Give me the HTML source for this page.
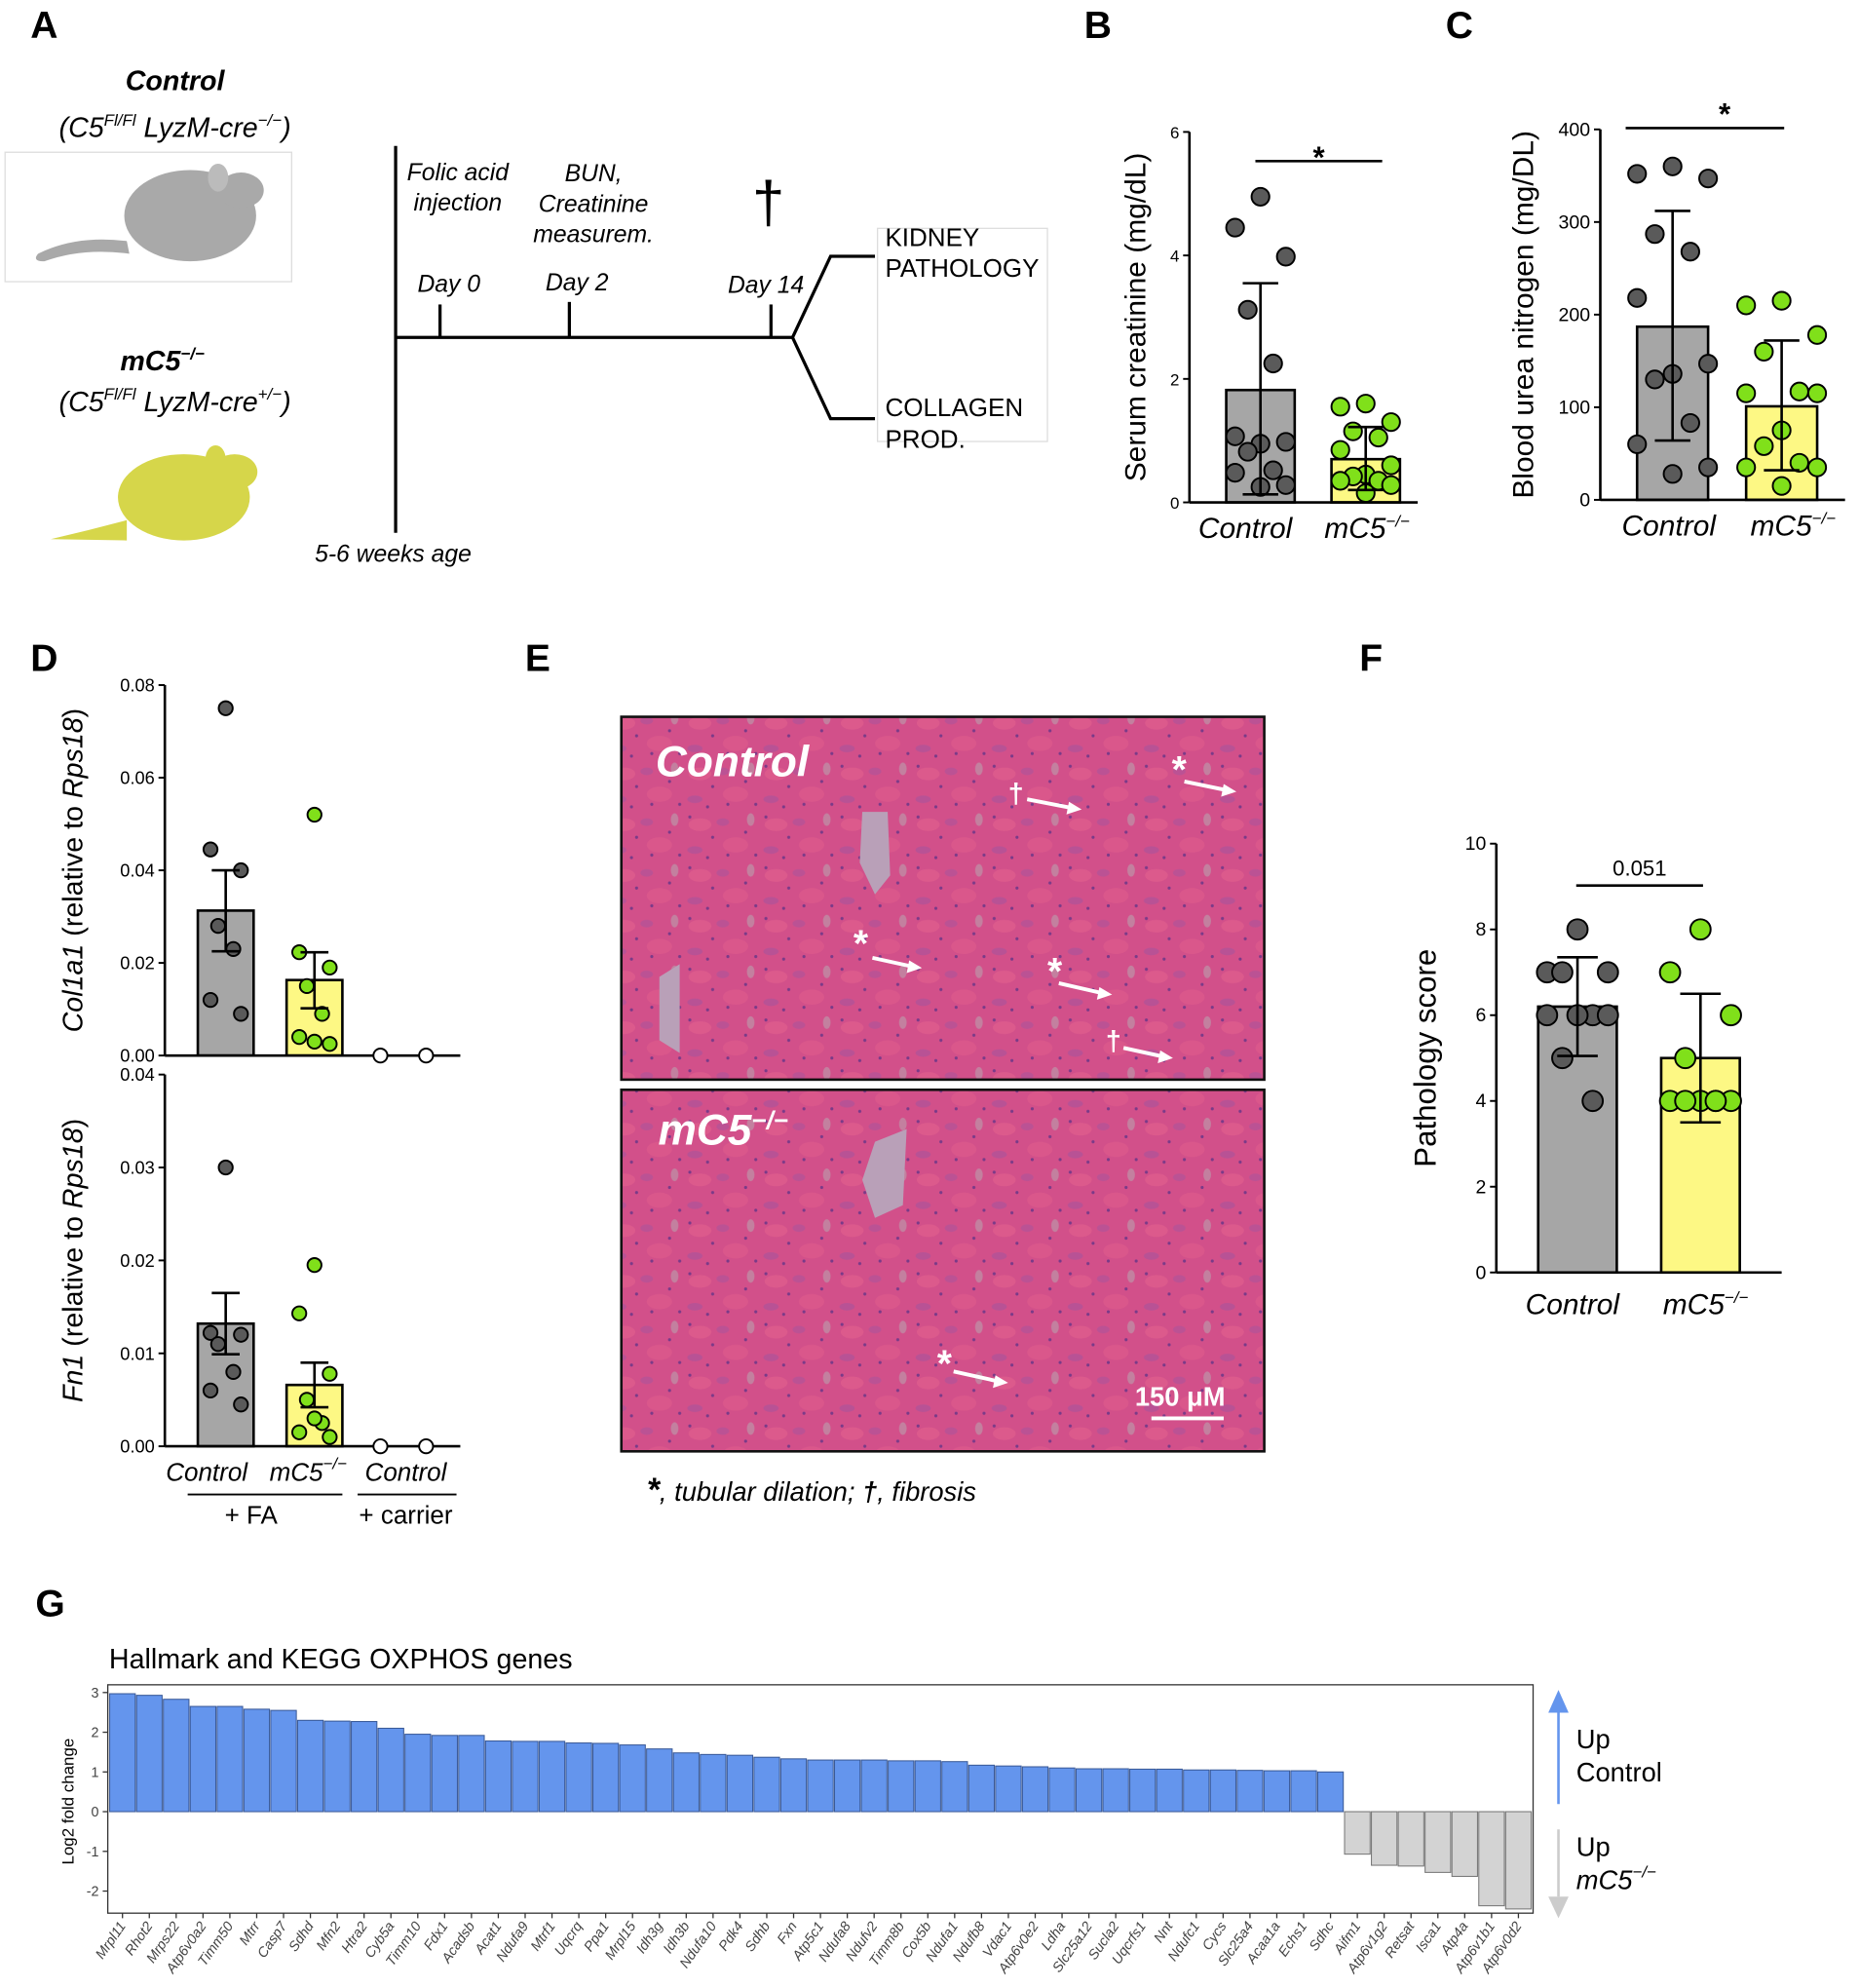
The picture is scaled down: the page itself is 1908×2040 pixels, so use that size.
<!DOCTYPE html>
<html><head><meta charset="utf-8"><style>
html,body{margin:0;padding:0;background:#fff;}
svg{display:block;font-family:"Liberation Sans",Arial,sans-serif;}
</style></head><body>
<svg id="fig" width="1908" height="2040" viewBox="0 0 1466 1567" preserveAspectRatio="none" xmlns="http://www.w3.org/2000/svg">
<defs>
<pattern id="tissue" width="60" height="40" patternUnits="userSpaceOnUse">
<rect width="60" height="40" fill="#d2508a"/>
<ellipse cx="12" cy="10" rx="9" ry="5" fill="#dc5a8c"/>
<ellipse cx="40" cy="26" rx="10" ry="6" fill="#da578b"/>
<ellipse cx="30" cy="8" rx="5" ry="3" fill="#bb5294"/>
<ellipse cx="8" cy="30" rx="6" ry="3" fill="#b85295"/>
<ellipse cx="52" cy="6" rx="3" ry="5" fill="#c3809f"/>
<circle cx="22" cy="20" r="1.2" fill="#7a3a88"/><circle cx="48" cy="16" r="1.2" fill="#7a3a88"/>
<circle cx="18" cy="36" r="1.2" fill="#7a3a88"/><circle cx="56" cy="34" r="1.2" fill="#7a3a88"/>
<circle cx="4" cy="4" r="1.2" fill="#7a3a88"/><circle cx="34" cy="34" r="1.2" fill="#7a3a88"/>
</pattern>
</defs>

<!-- Panel A -->
<g>
<text x="24" y="30" font-size="30" font-weight="bold">A</text>
<text x="138" y="71" font-size="22" font-weight="bold" font-style="italic" text-anchor="middle">Control</text>
<text x="138" y="108" font-size="22" font-style="italic" text-anchor="middle">(C5<tspan font-size="13" dy="-9">Fl/Fl</tspan><tspan dy="9"> LyzM-cre</tspan><tspan font-size="13" dy="-9">−/−</tspan><tspan dy="9">)</tspan></text>
<rect x="4" y="120" width="226" height="102" fill="#fff" stroke="#ddd"/>
<g fill="#a9a9a9">
<ellipse cx="150" cy="170" rx="52" ry="36"/><ellipse cx="190" cy="150" rx="18" ry="14"/><ellipse cx="172" cy="140" rx="8" ry="11" fill="#bbb"/>
<path d="M100 190 Q60 185 30 200 Q25 206 35 206 Q65 195 102 200Z"/></g>
<text x="128" y="292" font-size="22" font-weight="bold" font-style="italic" text-anchor="middle">mC5<tspan font-size="13" dy="-9">−/−</tspan></text>
<text x="138" y="324" font-size="22" font-style="italic" text-anchor="middle">(C5<tspan font-size="13" dy="-9">Fl/Fl</tspan><tspan dy="9"> LyzM-cre</tspan><tspan font-size="13" dy="-9">+/−</tspan><tspan dy="9">)</tspan></text>
<g fill="#d6d64a">
<ellipse cx="145" cy="392" rx="52" ry="34"/><ellipse cx="185" cy="372" rx="18" ry="14"/><ellipse cx="170" cy="362" rx="8" ry="11"/>
<path d="M100 410 Q70 418 40 425 L100 426Z"/></g>
<g stroke="#000" stroke-width="2.5" fill="none">
<line x1="312" y1="115" x2="312" y2="420"/><line x1="312" y1="266" x2="625" y2="266"/>
<line x1="347" y1="240" x2="347" y2="266"/><line x1="449" y1="238" x2="449" y2="266"/><line x1="608" y1="240" x2="608" y2="266"/>
<polyline points="690,202 655,202 625,266 655,330 690,330"/>
</g>
<rect x="692" y="180" width="134" height="168" fill="none" stroke="#ddd"/>
<g font-size="19" font-style="italic" text-anchor="middle">
<text x="361" y="142">Folic acid</text>
<text x="361" y="166">injection</text>
<text x="468" y="143">BUN,</text>
<text x="468" y="167">Creatinine</text>
<text x="468" y="191">measurem.</text>
<text x="354" y="230">Day 0</text>
<text x="455" y="229">Day 2</text>
<text x="604" y="231">Day 14</text>
<text x="310" y="443">5-6 weeks age</text>
</g>
<text x="606" y="175" font-size="46" text-anchor="middle">†</text>
<g font-size="20">
<text x="698" y="194">KIDNEY</text>
<text x="698" y="218">PATHOLOGY</text>
<text x="698" y="328">COLLAGEN</text>
<text x="698" y="353">PROD.</text>
</g>
</g>

<!-- Panel E -->
<g>
<text x="414" y="529" font-size="30" font-weight="bold">E</text>
<rect x="490" y="565" width="507" height="286" fill="url(#tissue)" stroke="#111" stroke-width="2"/>
<rect x="490" y="859" width="507" height="285" fill="url(#tissue)" stroke="#111" stroke-width="2"/>
<g fill="#b9a0b8">
<path d="M680 640 L700 640 L702 690 L690 705 L678 680Z"/><path d="M520 770 L536 760 L536 830 L520 820Z"/>
<path d="M690 900 L715 890 L712 950 L690 960 L680 930Z"/>
</g>
<text x="517" y="612" font-size="34" font-weight="bold" font-style="italic" fill="#fff">Control</text>
<text x="519" y="902" font-size="34" font-weight="bold" font-style="italic" fill="#fff">mC5<tspan font-size="20" dy="-12">−/−</tspan></text>
<g fill="#fff" font-weight="bold">
<text x="924" y="617" font-size="30">*</text>
<text x="673" y="754" font-size="30">*</text>
<text x="826" y="776" font-size="30">*</text>
<text x="739" y="1085" font-size="30">*</text>
<text x="795" y="633" font-size="22">†</text>
<text x="872" y="828" font-size="22">†</text>
</g>
<g stroke="#fff" stroke-width="3">
<line x1="810" y1="630" x2="846" y2="637"/><line x1="934" y1="616" x2="968" y2="623"/>
<line x1="688" y1="755" x2="720" y2="762"/><line x1="835" y1="775" x2="870" y2="783"/>
<line x1="886" y1="826" x2="918" y2="833"/><line x1="752" y1="1081" x2="788" y2="1089"/>
</g>
<g fill="#fff">
<polygon points="853,638 843,632 841,642"/><polygon points="975,624 965,618 963,628"/>
<polygon points="727,763 717,757 715,767"/><polygon points="877,784 867,778 865,788"/>
<polygon points="925,834 915,828 913,838"/><polygon points="795,1090 785,1084 783,1094"/>
</g>
<text x="895" y="1108" font-size="21" font-weight="bold" fill="#fff">150 μM</text>
<line x1="908" y1="1118" x2="965" y2="1118" stroke="#fff" stroke-width="3"/>
<text x="510" y="1183" font-size="21" font-style="italic"><tspan font-size="26" font-weight="bold">*</tspan>, tubular dilation; <tspan font-weight="bold">†</tspan>, fibrosis</text>
</g>

<!-- Panel G text -->
<text x="28" y="1274" font-size="30" font-weight="bold">G</text>
<text x="86" y="1315" font-size="22">Hallmark and KEGG OXPHOS genes</text>
<g id="gplot"></g>
<g id="charts"></g>
</svg>
<script>
// ---------- data ----------
const groupLabels = ["Control", "mC5"];
const creatControl = [4.95, 4.45, 3.98, 3.12, 2.25, 1.07, 0.98, 0.95, 0.82, 0.52, 0.48, 0.28, 0.25];
const creatMC5 = [1.6, 1.55, 1.3, 1.15, 1.05, 0.85, 0.6, 0.45, 0.42, 0.35, 0.35, 0.28, 0.15];
const creatMeans = [1.82, 0.7];
const creatErrHi = [3.55, 1.22];
const creatErrLo = [0.13, 0.2];
const creatTicks = [0, 2, 4, 6];

const bunControl = [360, 352, 347, 287, 268, 218, 147, 136, 130, 83, 60, 35, 28];
const bunMC5 = [215, 210, 178, 160, 117, 115, 115, 75, 58, 40, 35, 35, 15];
const bunMeans = [187, 101];
const bunErrHi = [312, 172];
const bunErrLo = [64, 32];
const bunTicks = [0, 100, 200, 300, 400];

const colControl = [0.075, 0.0445, 0.040, 0.028, 0.023, 0.012, 0.009];
const colMC5 = [0.052, 0.0223, 0.019, 0.015, 0.009, 0.004, 0.0025, 0.003];
const colCarrier = [0, 0];
const colMeans = [0.0313, 0.0163];
const colErrHi = [0.040, 0.0223];
const colErrLo = [0.0225, 0.0102];
const colTicks = [0, 0.02, 0.04, 0.06, 0.08];

const fnControl = [0.030, 0.0122, 0.012, 0.011, 0.008, 0.006, 0.0045];
const fnMC5 = [0.0195, 0.0143, 0.0078, 0.005, 0.0025, 0.0015, 0.001, 0.003];
const fnCarrier = [0, 0];
const fnMeans = [0.0132, 0.0066];
const fnErrHi = [0.0165, 0.009];
const fnErrLo = [0.0099, 0.0042];
const fnTicks = [0, 0.01, 0.02, 0.03, 0.04];

const pathControl = [8, 7, 7, 7, 6, 6, 6, 6, 5, 4];
const pathMC5 = [8, 7, 6, 5, 4, 4, 4, 4, 4, 4];
const pathMeans = [6.2, 5.0];
const pathErrHi = [7.35, 6.5];
const pathErrLo = [5.05, 3.5];
const pathTicks = [0, 2, 4, 6, 8, 10];

const geneNames = ["Mrpl11","Rhot2","Mrps22","Atp6v0a2","Timm50","Mtrr","Casp7","Sdhd","Mfn2","Htra2","Cyb5a","Timm10","Fdx1","Acadsb","Acat1","Ndufa9","Mtrf1","Uqcrq","Ppa1","Mrpl15","Idh3g","Idh3b","Ndufa10","Pdk4","Sdhb","Fxn","Atp5c1","Ndufa8","Ndufv2","Timm8b","Cox5b","Ndufa1","Ndufb8","Vdac1","Atp6v0e2","Ldha","Slc25a12","Sucla2","Uqcrfs1","Nnt","Ndufc1","Cycs","Slc25a4","Acaa1a","Echs1","Sdhc","Aifm1","Atp6v1g2","Retsat","Isca1","Atp4a","Atp6v1b1","Atp6v0d2"];
const geneLog2FC = [2.97,2.93,2.83,2.65,2.65,2.58,2.55,2.3,2.28,2.27,2.1,1.95,1.92,1.92,1.78,1.77,1.77,1.73,1.72,1.68,1.58,1.48,1.44,1.42,1.37,1.33,1.3,1.3,1.3,1.28,1.28,1.26,1.17,1.15,1.13,1.1,1.08,1.08,1.07,1.07,1.05,1.05,1.04,1.03,1.03,1.0,-1.07,-1.35,-1.37,-1.53,-1.63,-2.37,-2.45];
const gTicks = [-2, -1, 0, 1, 2, 3];

// ---------- helpers ----------
const NS = "http://www.w3.org/2000/svg";
const root = document.getElementById("charts");
function mk(tag, attrs, parent) {
  const e = document.createElementNS(NS, tag);
  for (const k in attrs) e.setAttribute(k, attrs[k]);
  (parent || root).appendChild(e);
  return e;
}
function jitter(i, n, w) {
  const pat = [0, -1, 1, -0.5, 0.5, -1, 1, 0, -0.5, 0.5, -1, 1, 0];
  return pat[i % pat.length] * w;
}

function barPanel(o) {
  const g = mk("g", {});
  
  
  const y = v => o.y0 - (v - o.min) / (o.max - o.min) * (o.y0 - o.yTop);
  o.means.forEach((m, i) => {
    const b = mk("rect", {x: o.cx[i] - o.bw / 2, y: y(m), width: o.bw, height: o.y0 - y(m), fill: o.fills[i], stroke: "#000", "stroke-width": 2}, g);
    
    
  });
  o.points.forEach((arr, gi) => {
    arr.forEach((v, i) => {
      const c = mk("circle", {cx: o.cx[gi] + jitter(i, arr.length, o.jit), cy: y(v), r: o.r, fill: o.pfills[gi], stroke: "#000", "stroke-width": 1.5}, g);
      
      
    });
  });
  o.means.forEach((m, i) => {
    const eg = mk("g", {stroke: "#000", "stroke-width": 2}, g);
    
    
    mk("line", {x1: o.cx[i], x2: o.cx[i], y1: y(o.hi[i]), y2: y(o.lo[i])}, eg);
    mk("line", {x1: o.cx[i] - o.cap, x2: o.cx[i] + o.cap, y1: y(o.hi[i]), y2: y(o.hi[i])}, eg);
    mk("line", {x1: o.cx[i] - o.cap, x2: o.cx[i] + o.cap, y1: y(o.lo[i]), y2: y(o.lo[i])}, eg);
  });
  const ax = mk("line", {x1: o.ax, x2: o.ax, y1: o.yTop, y2: o.y0, stroke: "#000", "stroke-width": 2}, g);
  
  
  const xa = mk("line", {x1: o.ax, x2: o.axEnd, y1: o.y0, y2: o.y0, stroke: "#000", "stroke-width": 2}, g);
  
  
  o.ticks.forEach(t => {
    mk("line", {x1: o.ax - 5, x2: o.ax, y1: y(t), y2: y(t), stroke: "#000", "stroke-width": 1.5}, g);
    const tl = mk("text", {x: o.ax - 8, y: y(t) + 5, "font-size": o.tfs, "text-anchor": "end"}, g);
    
    
    tl.textContent = o.fmt ? o.fmt(t) : t;
  });
  const tt = mk("text", {x: 0, y: 0, "font-size": o.titleSize, "text-anchor": "middle", transform: "translate(" + o.titleX + "," + ((o.yTop + o.y0) / 2) + ") rotate(-90)"}, g);
  
  
  tt.innerHTML = o.title;
  return {g, y};
}
function txt(x, y, s, attrs, name, parent) {
  const t = mk("text", Object.assign({x, y}, attrs), parent);
  
  
  t.innerHTML = s;
  return t;
}
const GRAY = "#a6a6a6", YEL = "#fdf884", PG = "#5a5a5a", PGR = "#80e01a";
const mc5lbl = 'mC5<tspan font-size="13" dy="-9">−/−</tspan>';

// Panel B
txt(855, 30, "B", {"font-size": 30, "font-weight": "bold"}, "panel-b-label");
barPanel({name: "creatinine-chart", y0: 396, yTop: 104, min: 0, max: 6, ax: 938, axEnd: 1118, cx: [994, 1077], bw: 54,
  means: creatMeans, hi: creatErrHi, lo: creatErrLo, points: [creatControl, creatMC5], fills: [GRAY, YEL], pfills: [PG, PGR],
  r: 7, jit: 20, cap: 14, ticks: creatTicks, tfs: 13, title: "Serum creatinine (mg/dL)", titleSize: 23, titleX: 903});
mk("line", {x1: 990, x2: 1090, y1: 127, y2: 127, stroke: "#000", "stroke-width": 2});
txt(1040, 132, "*", {"font-size": 24, "font-weight": "bold", "text-anchor": "middle"}, "significance-star-b");
txt(982, 424, "Control", {"font-size": 23, "font-style": "italic", "text-anchor": "middle"}, "x-label-control-b");
txt(1078, 424, mc5lbl, {"font-size": 23, "font-style": "italic", "text-anchor": "middle"}, "x-label-mc5-b");

// Panel C
txt(1140, 30, "C", {"font-size": 30, "font-weight": "bold"}, "panel-c-label");
barPanel({name: "bun-chart", y0: 394, yTop: 102, min: 0, max: 400, ax: 1262, axEnd: 1455, cx: [1319, 1405], bw: 56,
  means: bunMeans, hi: bunErrHi, lo: bunErrLo, points: [bunControl, bunMC5], fills: [GRAY, YEL], pfills: [PG, PGR],
  r: 7, jit: 28, cap: 14, ticks: bunTicks, tfs: 15, title: "Blood urea nitrogen (mg/DL)", titleSize: 23, titleX: 1209});
mk("line", {x1: 1282, x2: 1407, y1: 101, y2: 101, stroke: "#000", "stroke-width": 2});
txt(1360, 98, "*", {"font-size": 24, "font-weight": "bold", "text-anchor": "middle"}, "significance-star-c");
txt(1316, 422, "Control", {"font-size": 23, "font-style": "italic", "text-anchor": "middle"}, "x-label-control-c");
txt(1414, 422, mc5lbl, {"font-size": 23, "font-style": "italic", "text-anchor": "middle"}, "x-label-mc5-c");

// Panel D
txt(24, 529, "D", {"font-size": 30, "font-weight": "bold"}, "panel-d-label");
const f2 = t => t.toFixed(2);
const dTop = barPanel({name: "col1a1-chart", y0: 832, yTop: 540, min: 0, max: 0.08, ax: 130, axEnd: 363, cx: [178, 248, 318], bw: 44,
  means: colMeans, hi: colErrHi, lo: colErrLo, points: [colControl, colMC5], fills: [GRAY, YEL], pfills: [PG, PGR],
  r: 5.5, jit: 12, cap: 11, ticks: colTicks, tfs: 14, fmt: f2, title: '<tspan font-style="italic">Col1a1</tspan> (relative to <tspan font-style="italic">Rps18</tspan>)', titleSize: 22, titleX: 65});
colCarrier.forEach((v, i) => {
  const c = mk("circle", {cx: 300 + i * 36, cy: dTop.y(v), r: 5.5, fill: "#fff", stroke: "#000", "stroke-width": 1.5});
  
  
});
const dBot = barPanel({name: "fn1-chart", y0: 1140, yTop: 847, min: 0, max: 0.04, ax: 130, axEnd: 363, cx: [178, 248, 318], bw: 44,
  means: fnMeans, hi: fnErrHi, lo: fnErrLo, points: [fnControl, fnMC5], fills: [GRAY, YEL], pfills: [PG, PGR],
  r: 5.5, jit: 12, cap: 11, ticks: fnTicks, tfs: 14, fmt: f2, title: '<tspan font-style="italic">Fn1</tspan> (relative to <tspan font-style="italic">Rps18</tspan>)', titleSize: 22, titleX: 65});
fnCarrier.forEach((v, i) => {
  const c = mk("circle", {cx: 300 + i * 36, cy: dBot.y(v), r: 5.5, fill: "#fff", stroke: "#000", "stroke-width": 1.5});
  
  
});
txt(163, 1167, "Control", {"font-size": 20, "font-style": "italic", "text-anchor": "middle"}, "x-label-control-d");
txt(243, 1167, mc5lbl, {"font-size": 20, "font-style": "italic", "text-anchor": "middle"}, "x-label-mc5-d");
txt(320, 1167, "Control", {"font-size": 20, "font-style": "italic", "text-anchor": "middle"}, "x-label-carrier-d");
mk("line", {x1: 148, x2: 270, y1: 1178, y2: 1178, stroke: "#000", "stroke-width": 1.5});
mk("line", {x1: 282, x2: 360, y1: 1178, y2: 1178, stroke: "#000", "stroke-width": 1.5});
txt(198, 1201, "+ FA", {"font-size": 20, "text-anchor": "middle"}, "fa-group-label");
txt(320, 1201, "+ carrier", {"font-size": 20, "text-anchor": "middle"}, "carrier-group-label");

// Panel F
txt(1072, 529, "F", {"font-size": 30, "font-weight": "bold"}, "panel-f-label");
barPanel({name: "pathology-chart", y0: 1003, yTop: 665, min: 0, max: 10, ax: 1180, axEnd: 1405, cx: [1244, 1341], bw: 62,
  means: pathMeans, hi: pathErrHi, lo: pathErrLo, points: [pathControl, pathMC5], fills: [GRAY, YEL], pfills: [PG, PGR],
  r: 8, jit: 24, cap: 16, ticks: pathTicks, tfs: 15, title: "Pathology score", titleSize: 24, titleX: 1132});
mk("line", {x1: 1243, x2: 1343, y1: 698, y2: 698, stroke: "#000", "stroke-width": 2});
txt(1293, 690, "0.051", {"font-size": 17, "text-anchor": "middle"}, "p-value-label");
txt(1240, 1036, "Control", {"font-size": 23, "font-style": "italic", "text-anchor": "middle"}, "x-label-control-f");
txt(1345, 1036, mc5lbl, {"font-size": 23, "font-style": "italic", "text-anchor": "middle"}, "x-label-mc5-f");

// Panel G
(function () {
  const gp = document.getElementById("gplot");
  const left = 86, right = 1208, top = 1328, bottom = 1508;
  const y0 = 1428, unit = 31.3;
  const y = v => y0 - v * unit;
  const bw = (right - left) / geneNames.length;
  const x = i => left + i * bw;
  const frame = mk("rect", {x: left - 1, y: top, width: right - left + 2, height: bottom - top, fill: "#fff", stroke: "#333", "stroke-width": 1}, gp);
  
  
  geneLog2FC.forEach((v, i) => {
    const b = mk("rect", {x: x(i) + 0.5, y: Math.min(y(v), y0), width: bw - 1, height: Math.abs(y(v) - y0),
      fill: v >= 0 ? "#6495ed" : "#d3d3d3", stroke: v >= 0 ? "#3a5a98" : "#777", "stroke-width": 0.8}, gp);
    
    
    const cx = x(i) + bw / 2;
    mk("line", {x1: cx, x2: cx, y1: bottom, y2: bottom + 4, stroke: "#333"}, gp);
    const t = mk("text", {x: 0, y: 0, "font-size": 11, "font-style": "italic", fill: "#444", "text-anchor": "end",
      transform: "translate(" + (cx + 3) + "," + (bottom + 10) + ") rotate(-55)"}, gp);
    
    
    t.textContent = geneNames[i];
  });
  gTicks.forEach(t => {
    mk("line", {x1: left - 5, x2: left - 1, y1: y(t), y2: y(t), stroke: "#333"}, gp);
    const tl = mk("text", {x: left - 8, y: y(t) + 4, "font-size": 11, fill: "#444", "text-anchor": "end"}, gp);
    
    
    tl.textContent = t;
  });
  const yt = mk("text", {x: 0, y: 0, "font-size": 13, "text-anchor": "middle", transform: "translate(58,1420) rotate(-90)"}, gp);
  
  
  yt.textContent = "Log2 fold change";
  const a1 = mk("line", {x1: 1229, x2: 1229, y1: 1350, y2: 1422, stroke: "#6495ed", "stroke-width": 2}, gp);
  
  
  mk("polygon", {points: "1221,1350 1237,1350 1229,1332", fill: "#6495ed"}, gp);
  const a2 = mk("line", {x1: 1229, x2: 1229, y1: 1442, y2: 1495, stroke: "#ccc", "stroke-width": 2}, gp);
  
  
  mk("polygon", {points: "1221,1495 1237,1495 1229,1512", fill: "#ccc"}, gp);
  txt(1243, 1378, "Up", {"font-size": 21}, "up-control-label-1", gp);
  txt(1243, 1404, "Control", {"font-size": 21}, "up-control-label-2", gp);
  txt(1243, 1463, "Up", {"font-size": 21}, "up-mc5-label-1", gp);
  txt(1243, 1489, mc5lbl, {"font-size": 21, "font-style": "italic"}, "up-mc5-label-2", gp);
})();
</script>
</body></html>
